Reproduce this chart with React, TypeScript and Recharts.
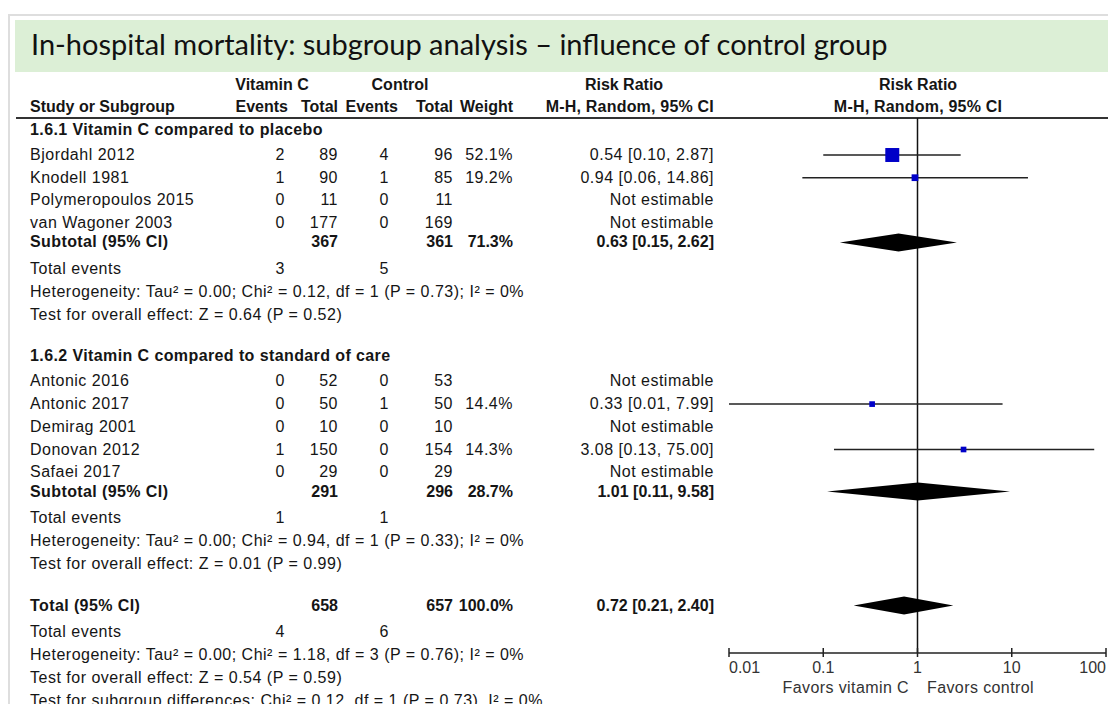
import React from "react";
import { ComposedChart, Scatter, XAxis, YAxis, ReferenceLine } from "recharts";

// ---- study level data ----
const studyNames = [
  "Bjordahl 2012",
  "Knodell 1981",
  "Polymeropoulos 2015",
  "van Wagoner 2003",
  "Antonic 2016",
  "Antonic 2017",
  "Demirag 2001",
  "Donovan 2012",
  "Safaei 2017",
];
const studyGroup = [0, 0, 0, 0, 1, 1, 1, 1, 1];
const vitCEvents = [2, 1, 0, 0, 0, 0, 0, 1, 0];
const vitCTotals = [89, 90, 11, 177, 52, 50, 10, 150, 29];
const ctrlEvents = [4, 1, 0, 0, 0, 1, 0, 0, 0];
const ctrlTotals = [96, 85, 11, 169, 53, 50, 10, 154, 29];
const studyWeights = [52.1, 19.2, null, null, null, 14.4, null, 14.3, null];
const studyRR = [0.54, 0.94, null, null, null, 0.33, null, 3.08, null];
const studyLow = [0.1, 0.06, null, null, null, 0.01, null, 0.13, null];
const studyHigh = [2.87, 14.86, null, null, null, 7.99, null, 75.0, null];

// ---- subgroup data ----
const groupTitles = [
  "1.6.1 Vitamin C compared to placebo",
  "1.6.2 Vitamin C compared to standard of care",
];
const groupVitCTotals = [367, 291];
const groupCtrlTotals = [361, 296];
const groupWeights = [71.3, 28.7];
const groupRR = [0.63, 1.01];
const groupLow = [0.15, 0.11];
const groupHigh = [2.62, 9.58];
const groupVitCEvents = [3, 1];
const groupCtrlEvents = [5, 1];
const groupHeterogeneity = [
  "Heterogeneity: Tau² = 0.00; Chi² = 0.12, df = 1 (P = 0.73); I² = 0%",
  "Heterogeneity: Tau² = 0.00; Chi² = 0.94, df = 1 (P = 0.33); I² = 0%",
];
const groupOverall = [
  "Test for overall effect: Z = 0.64 (P = 0.52)",
  "Test for overall effect: Z = 0.01 (P = 0.99)",
];

// ---- pooled data ----
const totalCounts = [658, 657];
const totalEvents = [4, 6];
const totalWeight = 100.0;
const totalEstimate = [0.72, 0.21, 2.4];
const totalNotes = [
  "Heterogeneity: Tau² = 0.00; Chi² = 1.18, df = 3 (P = 0.76); I² = 0%",
  "Test for overall effect: Z = 0.54 (P = 0.59)",
  "Test for subgroup differences: Chi² = 0.12, df = 1 (P = 0.73), I² = 0%",
];

const axisTicks = [0.01, 0.1, 1, 10, 100];

// ---- layout ----
const COL = { vcEvents: 285, vcTotal: 338, ctEvents: 389, ctTotal: 453, weight: 513, rr: 714 };
const PLOT_TOP = 118;
const PLOT_BOTTOM = 653;
const TABLE_FONT = "'Liberation Sans', Arial, sans-serif";

type RowKind = "group" | "study" | "subtotal" | "events" | "note" | "total";
type Cell = { text: string; right: number };
type Mark =
  | { type: "square"; rr: number; lo: number; hi: number; weight: number }
  | { type: "diamond"; rr: number; lo: number; hi: number };
type Row = { kind: RowKind; y: number; label: string; bold: boolean; cells: Cell[]; mark?: Mark };

const fmtRR = (rr: number, lo: number, hi: number) =>
  `${rr.toFixed(2)} [${lo.toFixed(2)}, ${hi.toFixed(2)}]`;

function gapBefore(prev: RowKind | null, kind: RowKind) {
  if (prev === null) return 0;
  if (kind === "study") return prev === "group" ? 25 : 22.7;
  if (kind === "subtotal") return 19.3;
  if (kind === "events") return 26.5;
  if (kind === "note") return 23;
  return 41.5;
}

function buildRows(): Row[] {
  const rows: Row[] = [];
  let y = 130;
  let prev: RowKind | null = null;
  const push = (r: Omit<Row, "y">) => {
    y += gapBefore(prev, r.kind);
    rows.push({ ...r, y });
    prev = r.kind;
  };

  groupTitles.forEach((title, g) => {
    push({ kind: "group", label: title, bold: true, cells: [] });
    studyNames.forEach((name, i) => {
      if (studyGroup[i] !== g) return;
      const w = studyWeights[i];
      const rr = studyRR[i];
      const lo = studyLow[i];
      const hi = studyHigh[i];
      const cells: Cell[] = [
        { text: String(vitCEvents[i]), right: COL.vcEvents },
        { text: String(vitCTotals[i]), right: COL.vcTotal },
        { text: String(ctrlEvents[i]), right: COL.ctEvents },
        { text: String(ctrlTotals[i]), right: COL.ctTotal },
        { text: w != null ? `${w.toFixed(1)}%` : "", right: COL.weight },
        { text: rr != null && lo != null && hi != null ? fmtRR(rr, lo, hi) : "Not estimable", right: COL.rr },
      ];
      push({
        kind: "study",
        label: name,
        bold: false,
        cells,
        mark: rr != null && lo != null && hi != null && w != null ? { type: "square", rr, lo, hi, weight: w } : undefined,
      });
    });
    push({
      kind: "subtotal",
      label: "Subtotal (95% CI)",
      bold: true,
      cells: [
        { text: String(groupVitCTotals[g]), right: COL.vcTotal },
        { text: String(groupCtrlTotals[g]), right: COL.ctTotal },
        { text: `${groupWeights[g].toFixed(1)}%`, right: COL.weight },
        { text: fmtRR(groupRR[g], groupLow[g], groupHigh[g]), right: COL.rr },
      ],
      mark: { type: "diamond", rr: groupRR[g], lo: groupLow[g], hi: groupHigh[g] },
    });
    push({
      kind: "events",
      label: "Total events",
      bold: false,
      cells: [
        { text: String(groupVitCEvents[g]), right: COL.vcEvents },
        { text: String(groupCtrlEvents[g]), right: COL.ctEvents },
      ],
    });
    push({ kind: "note", label: groupHeterogeneity[g], bold: false, cells: [] });
    push({ kind: "note", label: groupOverall[g], bold: false, cells: [] });
  });

  const [trr, tlo, thi] = totalEstimate;
  push({
    kind: "total",
    label: "Total (95% CI)",
    bold: true,
    cells: [
      { text: String(totalCounts[0]), right: COL.vcTotal },
      { text: String(totalCounts[1]), right: COL.ctTotal },
      { text: `${totalWeight.toFixed(1)}%`, right: COL.weight },
      { text: fmtRR(trr, tlo, thi), right: COL.rr },
    ],
    mark: { type: "diamond", rr: trr, lo: tlo, hi: thi },
  });
  push({
    kind: "events",
    label: "Total events",
    bold: false,
    cells: [
      { text: String(totalEvents[0]), right: COL.vcEvents },
      { text: String(totalEvents[1]), right: COL.ctEvents },
    ],
  });
  totalNotes.forEach((n) => push({ kind: "note", label: n, bold: false, cells: [] }));
  return rows;
}

const rows = buildRows();
const squares = rows
  .filter((r) => r.mark?.type === "square")
  .map((r) => ({ x: r.mark!.rr, y: r.y, weight: (r.mark as any).weight }));
const intervals = rows.filter((r) => r.mark?.type === "square");
const diamonds = rows.filter((r) => r.mark?.type === "diamond");

// regular text in the export is slightly tracked out; bold labels a little less,
// bold numbers and headers not at all
const textStyle = (bold: boolean, spacing?: number): React.CSSProperties => ({
  position: "absolute",
  fontFamily: TABLE_FONT,
  fontSize: 16,
  lineHeight: "18px",
  fontWeight: bold ? 700 : 400,
  letterSpacing: spacing ?? (bold ? 0 : 0.5),
  color: "#151515",
  whiteSpace: "nowrap",
});

function Text({ y, left, right, center, bold, spacing, children }: any) {
  const style: React.CSSProperties = { ...textStyle(!!bold, spacing), top: y - 9 };
  if (left != null) style.left = left;
  if (right != null) {
    style.right = 1108 - right;
    style.textAlign = "right";
  }
  if (center != null) {
    style.left = center - 200;
    style.width = 400;
    style.textAlign = "center";
  }
  return <div style={style}>{children}</div>;
}

function AxisTick(props: any) {
  const { x, y, payload, index } = props;
  const anchor = index === 0 ? "start" : index === axisTicks.length - 1 ? "end" : "middle";
  return (
    <g>
      <line x1={x} x2={x} y1={y - 5} y2={y + 4} stroke="#222" strokeWidth={1.5} />
      <text x={x} y={y + 20} textAnchor={anchor} fontFamily={TABLE_FONT} fontSize={16} fill="#333">
        {String(payload.value)}
      </text>
    </g>
  );
}

function Square(props: any) {
  const { cx, cy, payload } = props;
  const s = 2.5 + 0.22 * payload.weight;
  return <rect x={cx - s / 2} y={cy - s / 2} width={s} height={s} fill="#0000c8" />;
}

function diamondShape(rr: number, lo: number, hi: number) {
  return (p: any) => {
    const { x1, x2, y1 } = p;
    const mid = x1 + ((x2 - x1) * Math.log(rr / lo)) / Math.log(hi / lo);
    const h = 9;
    return <polygon points={`${x1},${y1} ${mid},${y1 - h} ${x2},${y1} ${mid},${y1 + h}`} fill="#000" />;
  };
}

const favorsStyle: React.CSSProperties = {
  ...textStyle(false, 0.4),
  color: "#333",
  top: 679,
};

export default function App() {
  return (
    <div style={{ position: "relative", width: 1108, height: 704, overflow: "hidden", background: "#fff" }}>
      <style>{"body{margin:0}"}</style>
      {/* slide frame and title band */}
      <div style={{ position: "absolute", left: 8, top: 14, width: 1200, height: 800, borderLeft: "2px solid #dedede", borderTop: "2px solid #dedede" }} />
      <div style={{ position: "absolute", left: 15, top: 20, width: 1100, height: 52, background: "#dcefd6" }} />
      <div
        style={{
          position: "absolute",
          left: 31,
          top: 30,
          fontFamily: "Lato, 'Noto Sans', sans-serif",
          fontSize: 29,
          lineHeight: "28px",
          color: "#111",
          whiteSpace: "nowrap",
        }}
      >
        In-hospital mortality: subgroup analysis – influence of control group
      </div>

      {/* column headers */}
      <Text y={85} center={272} bold>Vitamin C</Text>
      <Text y={85} center={400} bold>Control</Text>
      <Text y={85} center={624} bold>Risk Ratio</Text>
      <Text y={85} center={918} bold>Risk Ratio</Text>
      <Text y={107} left={30} bold>Study or Subgroup</Text>
      <Text y={107} right={288} bold>Events</Text>
      <Text y={107} right={338} bold>Total</Text>
      <Text y={107} right={398} bold>Events</Text>
      <Text y={107} right={453} bold>Total</Text>
      <Text y={107} right={513} bold>Weight</Text>
      <Text y={107} right={714} bold spacing={0.2}>M-H, Random, 95% CI</Text>
      <Text y={107} center={918} bold spacing={0.2}>M-H, Random, 95% CI</Text>
      <div style={{ position: "absolute", left: 16, top: 117, width: 1100, height: 2, background: "#333" }} />

      {rows.map((r, i) => (
        <React.Fragment key={i}>
          <Text y={r.y} left={30} bold={r.bold} spacing={r.bold ? 0.4 : undefined}>{r.label}</Text>
          {r.cells.map((c, j) => (
            <Text key={j} y={r.y} right={c.right} bold={r.bold}>{c.text}</Text>
          ))}
        </React.Fragment>
      ))}

      <div style={{ position: "absolute", top: 118 }}>
        <div style={{ position: "absolute", left: 700 }}>
          <ComposedChart width={408} height={586} margin={{ top: 0, right: 2, left: 29, bottom: 0 }}>
            <XAxis
              type="number"
              dataKey="x"
              scale="log"
              domain={[0.01, 100]}
              allowDataOverflow
              ticks={axisTicks}
              interval={0}
              height={51}
              tickSize={0}
              tickMargin={0}
              tickLine={false}
              axisLine={{ stroke: "#222", strokeWidth: 1.5 }}
              tick={<AxisTick />}
            />
            <YAxis type="number" dataKey="y" domain={[PLOT_TOP, PLOT_BOTTOM]} reversed hide allowDataOverflow />
            <ReferenceLine x={1} stroke="#111" strokeWidth={1.5} />
            {intervals.map((r, i) => (
              <ReferenceLine
                key={`ci-${i}`}
                segment={[
                  { x: r.mark!.lo, y: r.y },
                  { x: r.mark!.hi, y: r.y },
                ]}
                stroke="#222"
                strokeWidth={1.5}
                ifOverflow="visible"
              />
            ))}
            {diamonds.map((r, i) => (
              <ReferenceLine
                key={`pool-${i}`}
                segment={[
                  { x: r.mark!.lo, y: r.y },
                  { x: r.mark!.hi, y: r.y },
                ]}
                ifOverflow="visible"
                shape={diamondShape(r.mark!.rr, r.mark!.lo, r.mark!.hi)}
              />
            ))}
            <Scatter data={squares} shape={<Square />} isAnimationActive={false} />
          </ComposedChart>
        </div>
      </div>

      <div style={{ ...favorsStyle, right: 1108 - 909 }}>Favors vitamin C</div>
      <div style={{ ...favorsStyle, left: 927 }}>Favors control</div>
    </div>
  );
}
